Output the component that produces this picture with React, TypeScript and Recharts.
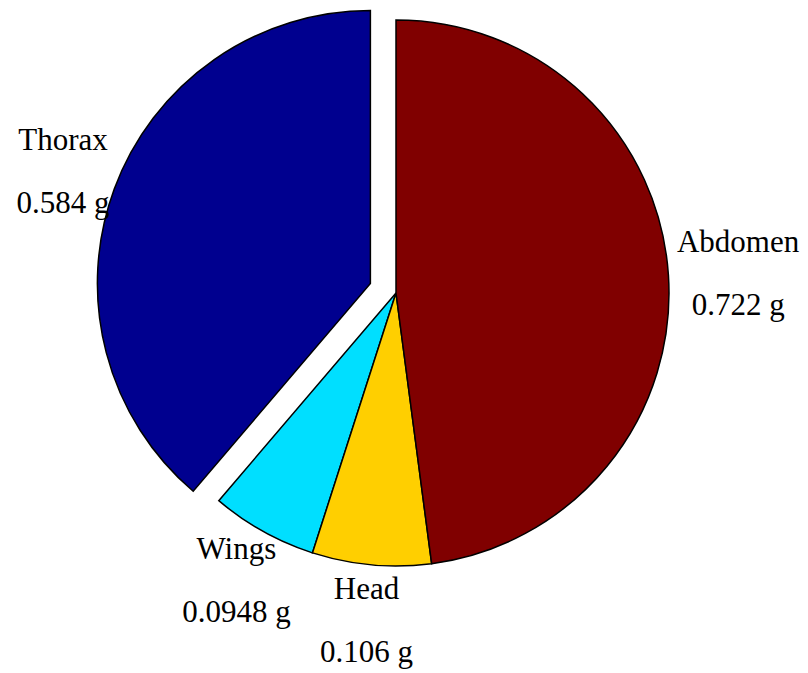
import React from 'react';
import { PieChart, Pie, Cell } from 'recharts';

// ---- data (order as drawn counter-clockwise from 12 o'clock) ----
const parts = ['Thorax', 'Wings', 'Head', 'Abdomen'];
const masses = [0.584, 0.0948, 0.106, 0.722];
const massLabels = ['0.584 g', '0.0948 g', '0.106 g', '0.722 g'];
const colors = ['#00008F', '#00DFFF', '#FFCF00', '#800000'];
const exploded = [true, false, false, false];

const data = parts.map((name, i) => ({ name, value: masses[i] }));

// ---- layout ----
const W = 808;
const H = 673;
const CX = 396;
const CY = 293;
const R = 273;
const EXPLODE = 0.1 * R;
const FONT = 31;
const FONT_FAMILY = '"Liberation Serif", "Times New Roman", serif';
const START = 90;
const END = 450;

const total = masses.reduce((a, b) => a + b, 0);
const midAngles = masses.map((v, i) => {
  const before = masses.slice(0, i).reduce((a, b) => a + b, 0);
  return START + (360 * (before + v / 2)) / total;
});

let ctx: CanvasRenderingContext2D | null = null;
const measure = (s: string) => {
  if (!ctx) {
    const c = document.createElement('canvas');
    ctx = c.getContext('2d');
  }
  if (!ctx) return s.length * FONT * 0.5;
  ctx.font = `${FONT}px "Liberation Serif"`;
  return ctx.measureText(s).width;
};

const makeLabel = (show: (i: number) => boolean, cxDef: number, cyDef: number) => (props: any) => {
  const { midAngle, index } = props;
  if (!show(index)) return null;
  const cx = typeof props.cx === 'number' ? props.cx : cxDef;
  const cy = typeof props.cy === 'number' ? props.cy : cyDef;
  const rad = (midAngle * Math.PI) / 180;
  let x = cx + 1.2 * R * Math.cos(rad);
  const y = cy - 1.2 * R * Math.sin(rad);
  const w = Math.max(measure(parts[index]), measure(massLabels[index]));
  // keep right-hand labels clear of the pie
  if (Math.cos(rad) > 0.5) x = Math.max(x, CX + R + 8 + w / 2);
  return (
    <text
      key={`lbl-${index}`}
      x={x}
      y={y}
      textAnchor="middle"
      fontFamily={FONT_FAMILY}
      fontSize={FONT}
      fill="#000"
    >
      <tspan x={x} y={y - 20}>{parts[index]}</tspan>
      <tspan x={x} y={y + 43}>{massLabels[index]}</tspan>
    </text>
  );
};

export default function App() {
  const explodedIdx = exploded.map((e, i) => (e ? i : -1)).filter((i) => i >= 0);
  return (
    <div style={{ position: 'absolute', left: 0, top: 0, width: W, height: H, background: '#fff' }}>
      <PieChart width={W} height={H} margin={{ top: 0, right: 0, bottom: 0, left: 0 }}>
        <Pie
          data={data}
          dataKey="value"
          nameKey="name"
          cx={CX}
          cy={CY}
          outerRadius={R}
          innerRadius={0}
          startAngle={START}
          endAngle={END}
          isAnimationActive={false}
          labelLine={false}
          label={makeLabel((i) => !exploded[i], CX, CY)}
        >
          {data.map((d, i) => (
            <Cell
              key={d.name}
              fill={exploded[i] ? 'none' : colors[i]}
              stroke={exploded[i] ? 'none' : '#000'}
              strokeWidth={1.5}
            />
          ))}
        </Pie>
        {explodedIdx.map((k) => {
          const rad = (midAngles[k] * Math.PI) / 180;
          const ecx = CX + EXPLODE * Math.cos(rad);
          const ecy = CY - EXPLODE * Math.sin(rad);
          return (
            <Pie
              key={`ex-${k}`}
              data={data}
              dataKey="value"
              nameKey="name"
              cx={ecx}
              cy={ecy}
              outerRadius={R}
              innerRadius={0}
              startAngle={START}
              endAngle={END}
              isAnimationActive={false}
              labelLine={false}
              label={makeLabel((i) => i === k, ecx, ecy)}
            >
              {data.map((d, i) => (
                <Cell
                  key={d.name}
                  fill={i === k ? colors[i] : 'none'}
                  stroke={i === k ? '#000' : 'none'}
                  strokeWidth={1.5}
                />
              ))}
            </Pie>
          );
        })}
      </PieChart>
    </div>
  );
}
